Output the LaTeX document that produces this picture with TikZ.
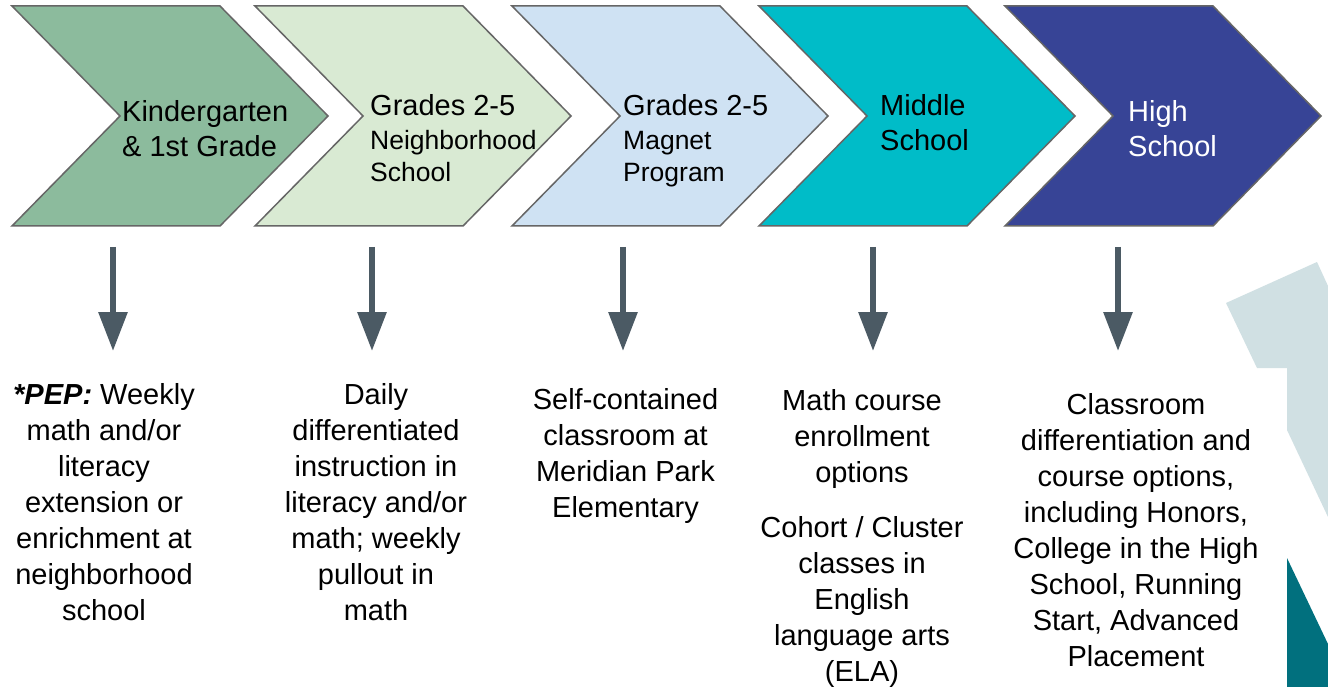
\documentclass[tikz,border=0pt]{standalone}
\usepackage{fontspec}
\setmainfont{Liberation Sans}
\usetikzlibrary{arrows.meta}
\definecolor{chA}{HTML}{8CBB9D}
\definecolor{chB}{HTML}{D9EAD3}
\definecolor{chC}{HTML}{CFE2F3}
\definecolor{chD}{HTML}{00BCC8}
\definecolor{chE}{HTML}{374496}
\definecolor{chline}{HTML}{666666}
\definecolor{arrowc}{HTML}{4B5A64}
\definecolor{decolight}{HTML}{D0E0E3}
\definecolor{decodark}{HTML}{01707E}
\newcommand\mychev[3]{% left x, fill colour, name
  \filldraw[chev, fill=#2] (#1,6) -- ({#1+208},6) -- ({#1+316},116) -- ({#1+208},226) -- (#1,226) -- ({#1+108},116) -- cycle;
  \coordinate (#3) at ({#1+158},116);}
\begin{document}
\begin{tikzpicture}[x=1pt,y=-1pt,
  chev/.style={draw=chline, line width=1.5pt, line join=miter},
  body/.style={font=\fontsize{29}{36}\selectfont, align=center, anchor=north, inner sep=0pt},
  ttl/.style={font=\fontsize{29}{35}\selectfont, align=left, anchor=north west, inner sep=0pt},
  subt/.style={font=\fontsize{26.5}{32}\selectfont, align=left, anchor=north west, inner sep=0pt},
  down/.style={draw=arrowc, line width=6pt, -{Triangle[width=28pt,length=39pt]}}]
\useasboundingbox (0,0) rectangle (1328,687);
\fill[white] (0,0) rectangle (1328,687);
% decorative shapes at the right edge
\fill[decolight] (1226,303) -- (1317,262) -- (1328,286) -- (1328,517) -- (1287,430) -- (1287,368) -- (1257,368) -- cycle;
\fill[decodark] (1287,558) -- (1328,644) -- (1328,687) -- (1287,687) -- cycle;
% chevrons
\mychev{12}{chA}{c1}
\mychev{255}{chB}{c2}
\mychev{512}{chC}{c3}
\mychev{759}{chD}{c4}
\mychev{1005}{chE}{c5}
% chevron labels (strut height 24.5 for the 29/35 font)
\node[ttl] (k1) at (122,96.5) {\strut Kindergarten\\\& 1st Grade};
\node[ttl] (g2) at (370,91) {\strut Grades 2-5};
\node[subt] (n2) at (370,127) {\strut Neighborhood\\School};
\node[ttl] (g3) at (623,91) {\strut Grades 2-5};
\node[subt] (n3) at (623,127) {\strut Magnet\\Program};
\node[ttl] (m4) at (880,91) {\strut Middle\\School};
\node[ttl, text=white] (h5) at (1128,96.5) {\strut High\\School};
% arrows
\foreach \i/\x in {1/113,2/372,3/623,4/873,5/1118}{
  \coordinate (s\i) at (\x,247);
  \coordinate (e\i) at (\x,351);
  \draw[down] (s\i) -- (e\i);
}
% descriptions (strut height 25.2)
\node[body] (t1) at (104,379.5) {\strut\textbf{\textit{*PEP:}} Weekly\\math and/or\\literacy\\extension or\\enrichment at\\neighborhood\\school};
\node[body] (t2) at (376,379) {\strut Daily\\differentiated\\instruction in\\literacy and/or\\math; weekly\\pullout in\\math};
\node[body] (t3) at (625.5,384.5) {\strut Self-contained\\classroom at\\Meridian Park\\Elementary};
\node[body] (t4a) at (862,384.8) {\strut Math course\\enrollment\\options};
\node[body] (t4b) at (862,511.8) {\strut Cohort / Cluster\\classes in\\English\\language arts\\(ELA)};
\node[body] (t5) at (1136,388.8) {\strut Classroom\\differentiation and\\course options,\\including Honors,\\College in the High\\School, Running\\Start, Advanced\\Placement};
\end{tikzpicture}
\end{document}
